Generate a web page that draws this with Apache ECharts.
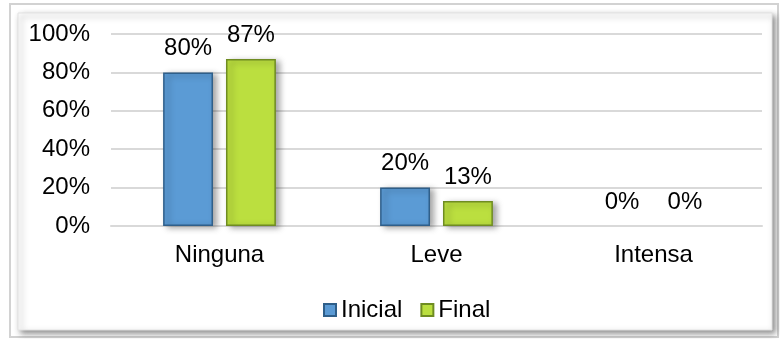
<!DOCTYPE html>
<html>
<head>
<meta charset="utf-8">
<script src="https://cdn.jsdelivr.net/npm/echarts@6/dist/echarts.min.js"></script>
<style>
  html, body { margin: 0; padding: 0; background: #ffffff; }
  #chart { width: 780px; height: 339px; }
</style>
</head>
<body>
<div id="chart"></div>
<script>
// Intensidad: distribución inicial vs final
const categories = ['Ninguna', 'Leve', 'Intensa'];
const seriesNames = ['Inicial', 'Final'];
const inicialValues = [80, 20, 0];
const finalValues = [87, 13, 0];
const yTicks = [0, 20, 40, 60, 80, 100];

const FONT = 'Liberation Sans, Arial, sans-serif';
const chart = echarts.init(document.getElementById('chart'));

function barSeries(name, values, fill, border) {
  // zero-height bars draw no outline or shadow, only their label
  const data = values.map(v => v === 0
    ? { value: v, itemStyle: { borderWidth: 0, shadowBlur: 0, shadowOffsetX: 0, shadowOffsetY: 0, color: 'rgba(0,0,0,0)' } }
    : v);
  return {
    name: name,
    type: 'bar',
    data: data,
    barWidth: '23%',
    barGap: '26%',
    itemStyle: {
      color: fill,
      borderColor: border,
      borderWidth: 1.5,
      shadowColor: 'rgba(0,0,0,0.35)',
      shadowBlur: 6,
      shadowOffsetX: 4,
      shadowOffsetY: 2
    },
    label: {
      show: true,
      position: 'top',
      distance: 12,
      formatter: '{c}%',
      color: '#000',
      fontFamily: FONT,
      fontSize: 24
    }
  };
}

chart.setOption({
  animation: false,
  backgroundColor: '#ffffff',
  graphic: [
    {
      type: 'rect',
      z: -10,
      shape: { x: 10, y: 4, width: 768, height: 333 },
      style: { fill: '#ffffff', stroke: '#d2d2d2', lineWidth: 2 }
    },
    {
      type: 'rect',
      z: -9,
      shape: { x: 18, y: 13, width: 754, height: 317 },
      style: {
        fill: '#ffffff',
        stroke: '#e2e2e2',
        lineWidth: 1,
        shadowColor: 'rgba(0,0,0,0.45)',
        shadowBlur: 6,
        shadowOffsetX: 3,
        shadowOffsetY: 3
      }
    }
  ],
  grid: { left: 111, right: 18, top: 34, bottom: 113, containLabel: false },
  legend: {
    data: seriesNames,
    left: 318,
    top: 293,
    itemWidth: 12,
    itemHeight: 12,
    itemGap: 18,
    icon: 'rect',
    textStyle: { color: '#000', fontFamily: FONT, fontSize: 24, padding: [0, 0, 0, 0] }
  },
  xAxis: {
    type: 'category',
    data: categories,
    axisLine: { show: true, lineStyle: { color: '#d9d9d9', width: 2 } },
    axisTick: { show: false },
    axisLabel: { color: '#000', fontFamily: FONT, fontSize: 24, margin: 17 }
  },
  yAxis: {
    type: 'value',
    min: yTicks[0],
    max: yTicks[yTicks.length - 1],
    interval: yTicks[1] - yTicks[0],
    axisLine: { show: false },
    axisTick: { show: false },
    splitLine: { lineStyle: { color: '#d9d9d9', width: 2 } },
    axisLabel: { color: '#000', fontFamily: FONT, fontSize: 24, margin: 21, formatter: '{value}%' }
  },
  series: [
    barSeries(seriesNames[0], inicialValues, '#5b9bd5', '#2f5f8a'),
    barSeries(seriesNames[1], finalValues, '#bbdf3f', '#6f8c22')
  ]
});
</script>
</body>
</html>
